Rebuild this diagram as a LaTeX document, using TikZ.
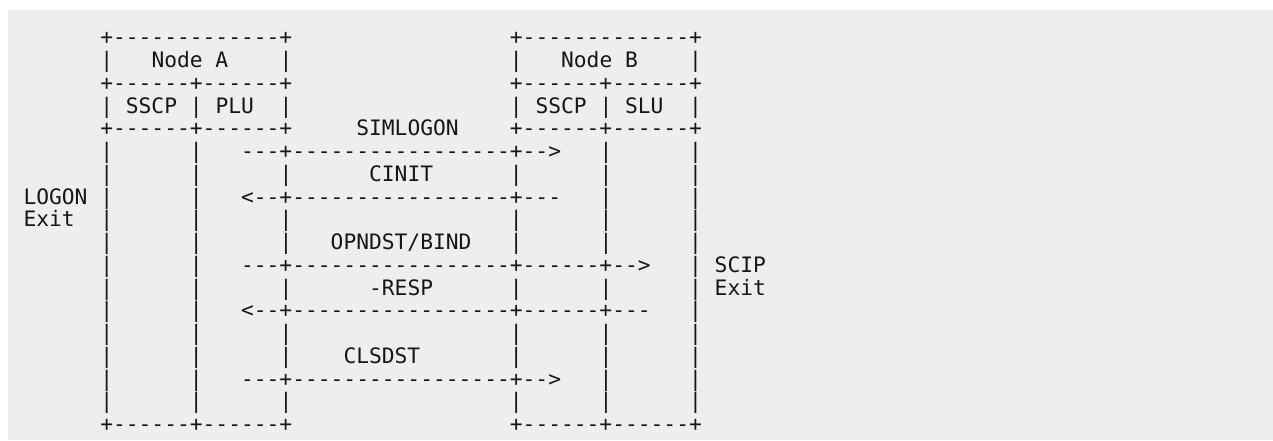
\documentclass[tikz,border=0pt]{standalone}
\usepackage{fontspec}
\setmonofont{DejaVu Sans Mono}
\definecolor{panel}{HTML}{EEEEEE}
\definecolor{ink}{HTML}{161616}
% character grid: cell width and line pitch (pt)
\newcommand\cellw{12.8}
\newcommand\lineh{22.74}
\tikzset{
  ascii/.style={font=\ttfamily\fontsize{21.26}{22.74}\selectfont, text=ink,
    anchor=base west, inner sep=0pt, outer sep=0pt},
}
% \gl{name}{column}{row}{text}
\newcommand\gl[4]{\node[ascii] (#1) at ({23.5+\cellw*#2},{395-\lineh*#3}) {#4};}
\begin{document}
\begin{tikzpicture}[x=1pt,y=1pt]
\useasboundingbox (0,0) rectangle (1273,440);
\fill[panel] (8,0) rectangle (1273,430);

% Node A and Node B header boxes
\gl{atop}{6}{0}{+-------------+}
\gl{btop}{38}{0}{+-------------+}
\gl{al1}{6}{1}{|}  \gl{aname}{10}{1}{Node A} \gl{ar1}{20}{1}{|}
\gl{bl1}{38}{1}{|} \gl{bname}{42}{1}{Node B} \gl{br1}{52}{1}{|}
\gl{amid}{6}{2}{+------+------+}
\gl{bmid}{38}{2}{+------+------+}
\gl{al3}{6}{3}{|}  \gl{asscp}{8}{3}{SSCP}  \gl{am3}{13}{3}{|} \gl{aplu}{15}{3}{PLU} \gl{ar3}{20}{3}{|}
\gl{bl3}{38}{3}{|} \gl{bsscp}{40}{3}{SSCP} \gl{bm3}{45}{3}{|} \gl{bslu}{47}{3}{SLU} \gl{br3}{52}{3}{|}
\gl{asep}{6}{4}{+------+------+}
\gl{bsep}{38}{4}{+------+------+}

% message labels
\gl{simlogon}{26}{4}{SIMLOGON}
\gl{cinit}{27}{6}{CINIT}
\gl{opndst}{24}{9}{OPNDST/BIND}
\gl{resp}{27}{11}{-RESP}
\gl{clsdst}{25}{14}{CLSDST}

% message flows
\gl{m1}{17}{5}{---+-----------------+-->}
\gl{m2}{17}{7}{<--+-----------------+---}
\gl{m3}{17}{10}{---+-----------------+------+-->}
\gl{m4}{17}{12}{<--+-----------------+------+---}
\gl{m5}{17}{15}{---+-----------------+-->}

% exit labels
\gl{logon}{0}{7}{LOGON}
\gl{logonexit}{0}{8}{Exit}
\gl{scip}{54}{10}{SCIP}
\gl{scipexit}{54}{11}{Exit}

% lifelines
\foreach \r in {5,...,16} {
  \gl{la-\r}{6}{\r}{|}
  \gl{lb-\r}{13}{\r}{|}
  \gl{lf-\r}{52}{\r}{|}
}
\foreach \r in {6,8,9,11,13,14,16} {
  \gl{lc-\r}{20}{\r}{|}
  \gl{ld-\r}{38}{\r}{|}
}
\foreach \r in {5,6,7,8,9,11,13,14,15,16} {
  \gl{le-\r}{45}{\r}{|}
}

% closing lines
\gl{abot}{6}{17}{+------+------+}
\gl{bbot}{38}{17}{+------+------+}
\end{tikzpicture}
\end{document}
